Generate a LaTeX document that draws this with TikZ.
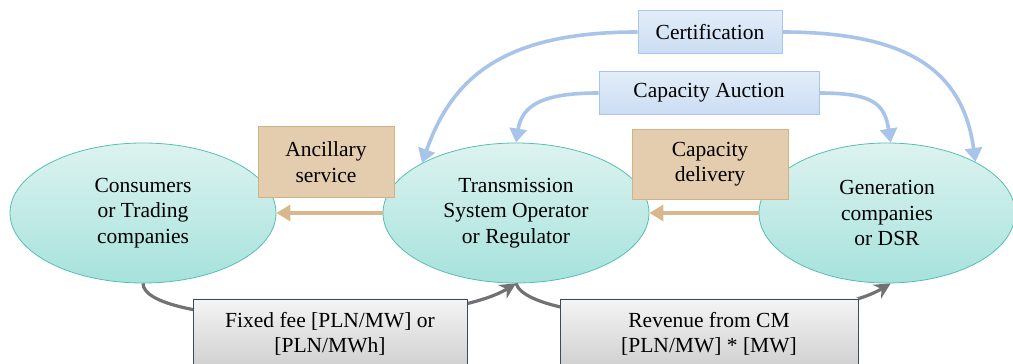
\documentclass[tikz,border=0pt]{standalone}
\usepackage{fontspec}
\setmainfont{Liberation Serif}
\usetikzlibrary{shapes.geometric,arrows.meta}
\definecolor{ellT}{HTML}{DDF3F0}
\definecolor{ellB}{HTML}{A6E2DC}
\definecolor{ellD}{HTML}{56BFB4}
\definecolor{tanF}{HTML}{E4CCAE}
\definecolor{tanD}{HTML}{D2B186}
\definecolor{tanA}{HTML}{D9B78C}
\definecolor{bluT}{HTML}{E3EDF9}
\definecolor{bluB}{HTML}{CBDDF3}
\definecolor{bluD}{HTML}{A9C6EA}
\definecolor{bluA}{HTML}{A8C4E9}
\definecolor{gryT}{HTML}{F4F4F4}
\definecolor{gryB}{HTML}{CFCFCF}
\definecolor{gryD}{HTML}{3B4B5E}
\definecolor{gryA}{HTML}{727272}
\tikzset{
  every node/.style={font=\fontsize{21.5}{25.5}\selectfont, align=center},
  actor/.style={ellipse, draw=ellD, line width=0.8pt, top color=ellT, bottom color=ellB, inner sep=0pt},
  tanbox/.style={rectangle, draw=tanD, line width=0.8pt, fill=tanF, inner sep=0pt},
  bluebox/.style={rectangle, draw=bluD, line width=0.8pt, top color=bluT, bottom color=bluB, inner sep=0pt},
  greybox/.style={rectangle, draw=gryD, line width=0.8pt, top color=gryT, bottom color=gryB, inner sep=0pt},
  bluearrow/.style={draw=bluA, line width=3.6pt, -{Triangle[length=14pt,width=17pt]}},
  tanarrow/.style={draw=tanA, line width=3.2pt, -{Triangle[length=14pt,width=16pt]}},
  greyarrow/.style={draw=gryA, line width=3.2pt, -{Stealth[length=16pt,width=16pt]}}
}
\begin{document}
\begin{tikzpicture}[x=1pt,y=1pt]
\useasboundingbox (0,0) rectangle (1013,364);
% actors
\node[actor, minimum width=266, minimum height=140] (cons) at (143,151) {Consumers\\or Trading\\companies};
\node[actor, minimum width=266, minimum height=140] (tso) at (516,151) {Transmission\\System Operator\\or Regulator};
\node[actor, minimum width=256, minimum height=140] (gen) at (887,151) {Generation\\companies\\or DSR};
% flow boxes
\node[tanbox, minimum width=136, minimum height=71] (anc) at (326,202) {Ancillary\\service};
\node[tanbox, minimum width=156, minimum height=70] (capdel) at (710,200) {Capacity\\delivery};
\node[bluebox, minimum width=144, minimum height=43] (cert) at (710,332) {Certification};
\node[bluebox, minimum width=220, minimum height=43] (auct) at (709,271) {Capacity Auction};
% connectors
\draw[bluearrow] (cert.west) .. controls +(-135,0) and +(30,85) .. (tso.152);
\draw[bluearrow] (cert.east) .. controls +(130,0) and +(-12,88) .. (gen.30);
\draw[bluearrow] (auct.west) .. controls +(-55,0) and +(6,38) .. (tso.north);
\draw[bluearrow] (auct.east) .. controls +(55,0) and +(-6,38) .. (gen.87);
\draw[tanarrow] (gen.west) -- (tso.east);
\draw[tanarrow] (tso.west) -- (cons.east);
\draw[greyarrow] (cons.south) .. controls +(0,-45) and +(-76,-47) .. (tso.south);
\draw[greyarrow] (tso.south) .. controls +(14,-45) and +(-76,-46) .. (gen.-87);
% payment boxes
\node[greybox, minimum width=274, minimum height=70] (fee) at (330,30) {Fixed fee [PLN/MW] or\\{[PLN/MWh]}};
\node[greybox, minimum width=298, minimum height=70] (rev) at (709,30) {Revenue from CM\\{[PLN/MW] * [MW]}};
\end{tikzpicture}
\end{document}
